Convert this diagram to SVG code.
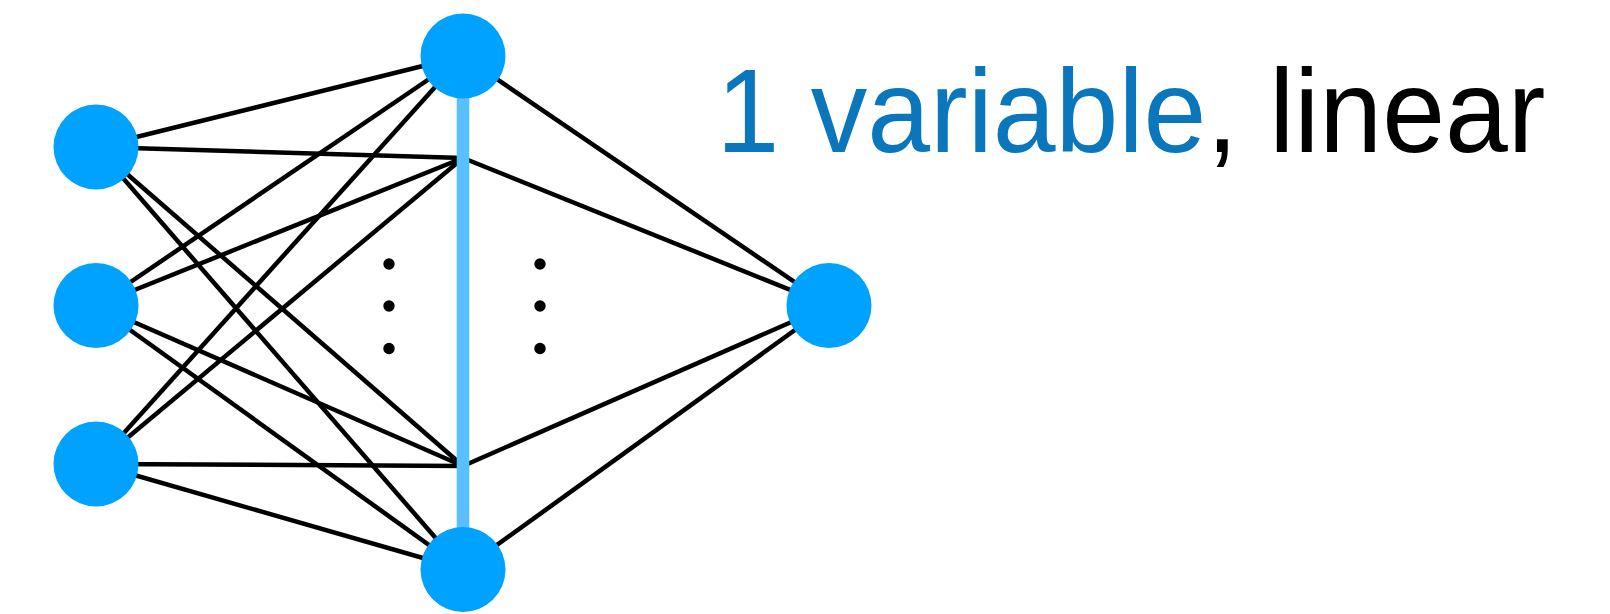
<svg xmlns="http://www.w3.org/2000/svg" width="1610" height="614" viewBox="0 0 1610 614">
  <style>
    .node { fill: #00A2FF; }
    .edge { stroke: #000; stroke-width: 4.5; fill: none; }
    .bar { stroke: #59BFFF; stroke-width: 12.6; }
    .dot { fill: #000; }
    .label { font-family: "Liberation Sans", Arial, sans-serif; font-size: 118px; }
  </style>
  <rect width="1610" height="614" fill="#fff"/>
  <g id="connectors">
    <line class="edge" x1="96" y1="147" x2="463" y2="56"/>
    <line class="edge" x1="96" y1="147" x2="463" y2="158"/>
    <line class="edge" x1="96" y1="147" x2="463" y2="466"/>
    <line class="edge" x1="96" y1="147" x2="463" y2="569.5"/>
    <line class="edge" x1="96" y1="305.5" x2="463" y2="56"/>
    <line class="edge" x1="96" y1="305.5" x2="463" y2="158"/>
    <line class="edge" x1="96" y1="305.5" x2="463" y2="466"/>
    <line class="edge" x1="96" y1="305.5" x2="463" y2="569.5"/>
    <line class="edge" x1="96" y1="464" x2="463" y2="56"/>
    <line class="edge" x1="96" y1="464" x2="463" y2="158"/>
    <line class="edge" x1="96" y1="464" x2="463" y2="466"/>
    <line class="edge" x1="96" y1="464" x2="463" y2="569.5"/>
    <line class="edge" x1="463" y1="56" x2="829" y2="305.5"/>
    <line class="edge" x1="463" y1="158" x2="829" y2="305.5"/>
    <line class="edge" x1="463" y1="466" x2="829" y2="305.5"/>
    <line class="edge" x1="463" y1="569.5" x2="829" y2="305.5"/>
  </g>
  <g id="hidden-layer-bar">
    <line class="bar" x1="463" y1="56" x2="463" y2="569.5"/>
  </g>
  <g id="ellipsis">
    <circle class="dot" cx="389" cy="264" r="5.7"/>
    <circle class="dot" cx="389" cy="306" r="5.7"/>
    <circle class="dot" cx="389" cy="348.5" r="5.7"/>
    <circle class="dot" cx="540" cy="264" r="5.7"/>
    <circle class="dot" cx="540" cy="306" r="5.7"/>
    <circle class="dot" cx="540" cy="348.5" r="5.7"/>
  </g>
  <g id="input-1"><circle class="node" cx="96" cy="147" r="42.5"/></g>
  <g id="input-2"><circle class="node" cx="96" cy="305.5" r="42.5"/></g>
  <g id="input-3"><circle class="node" cx="96" cy="464" r="42.5"/></g>
  <g id="hidden-top"><circle class="node" cx="463" cy="56" r="42.5"/></g>
  <g id="hidden-bottom"><circle class="node" cx="463" cy="569.5" r="42.5"/></g>
  <g id="output"><circle class="node" cx="829" cy="305.5" r="42.5"/></g>
  <g id="title">
    <text class="label" x="716.5" y="151.5" textLength="829" lengthAdjust="spacingAndGlyphs"><tspan fill="#0A76BC">1 variable</tspan><tspan fill="#000">, linear</tspan></text>
  </g>
</svg>
